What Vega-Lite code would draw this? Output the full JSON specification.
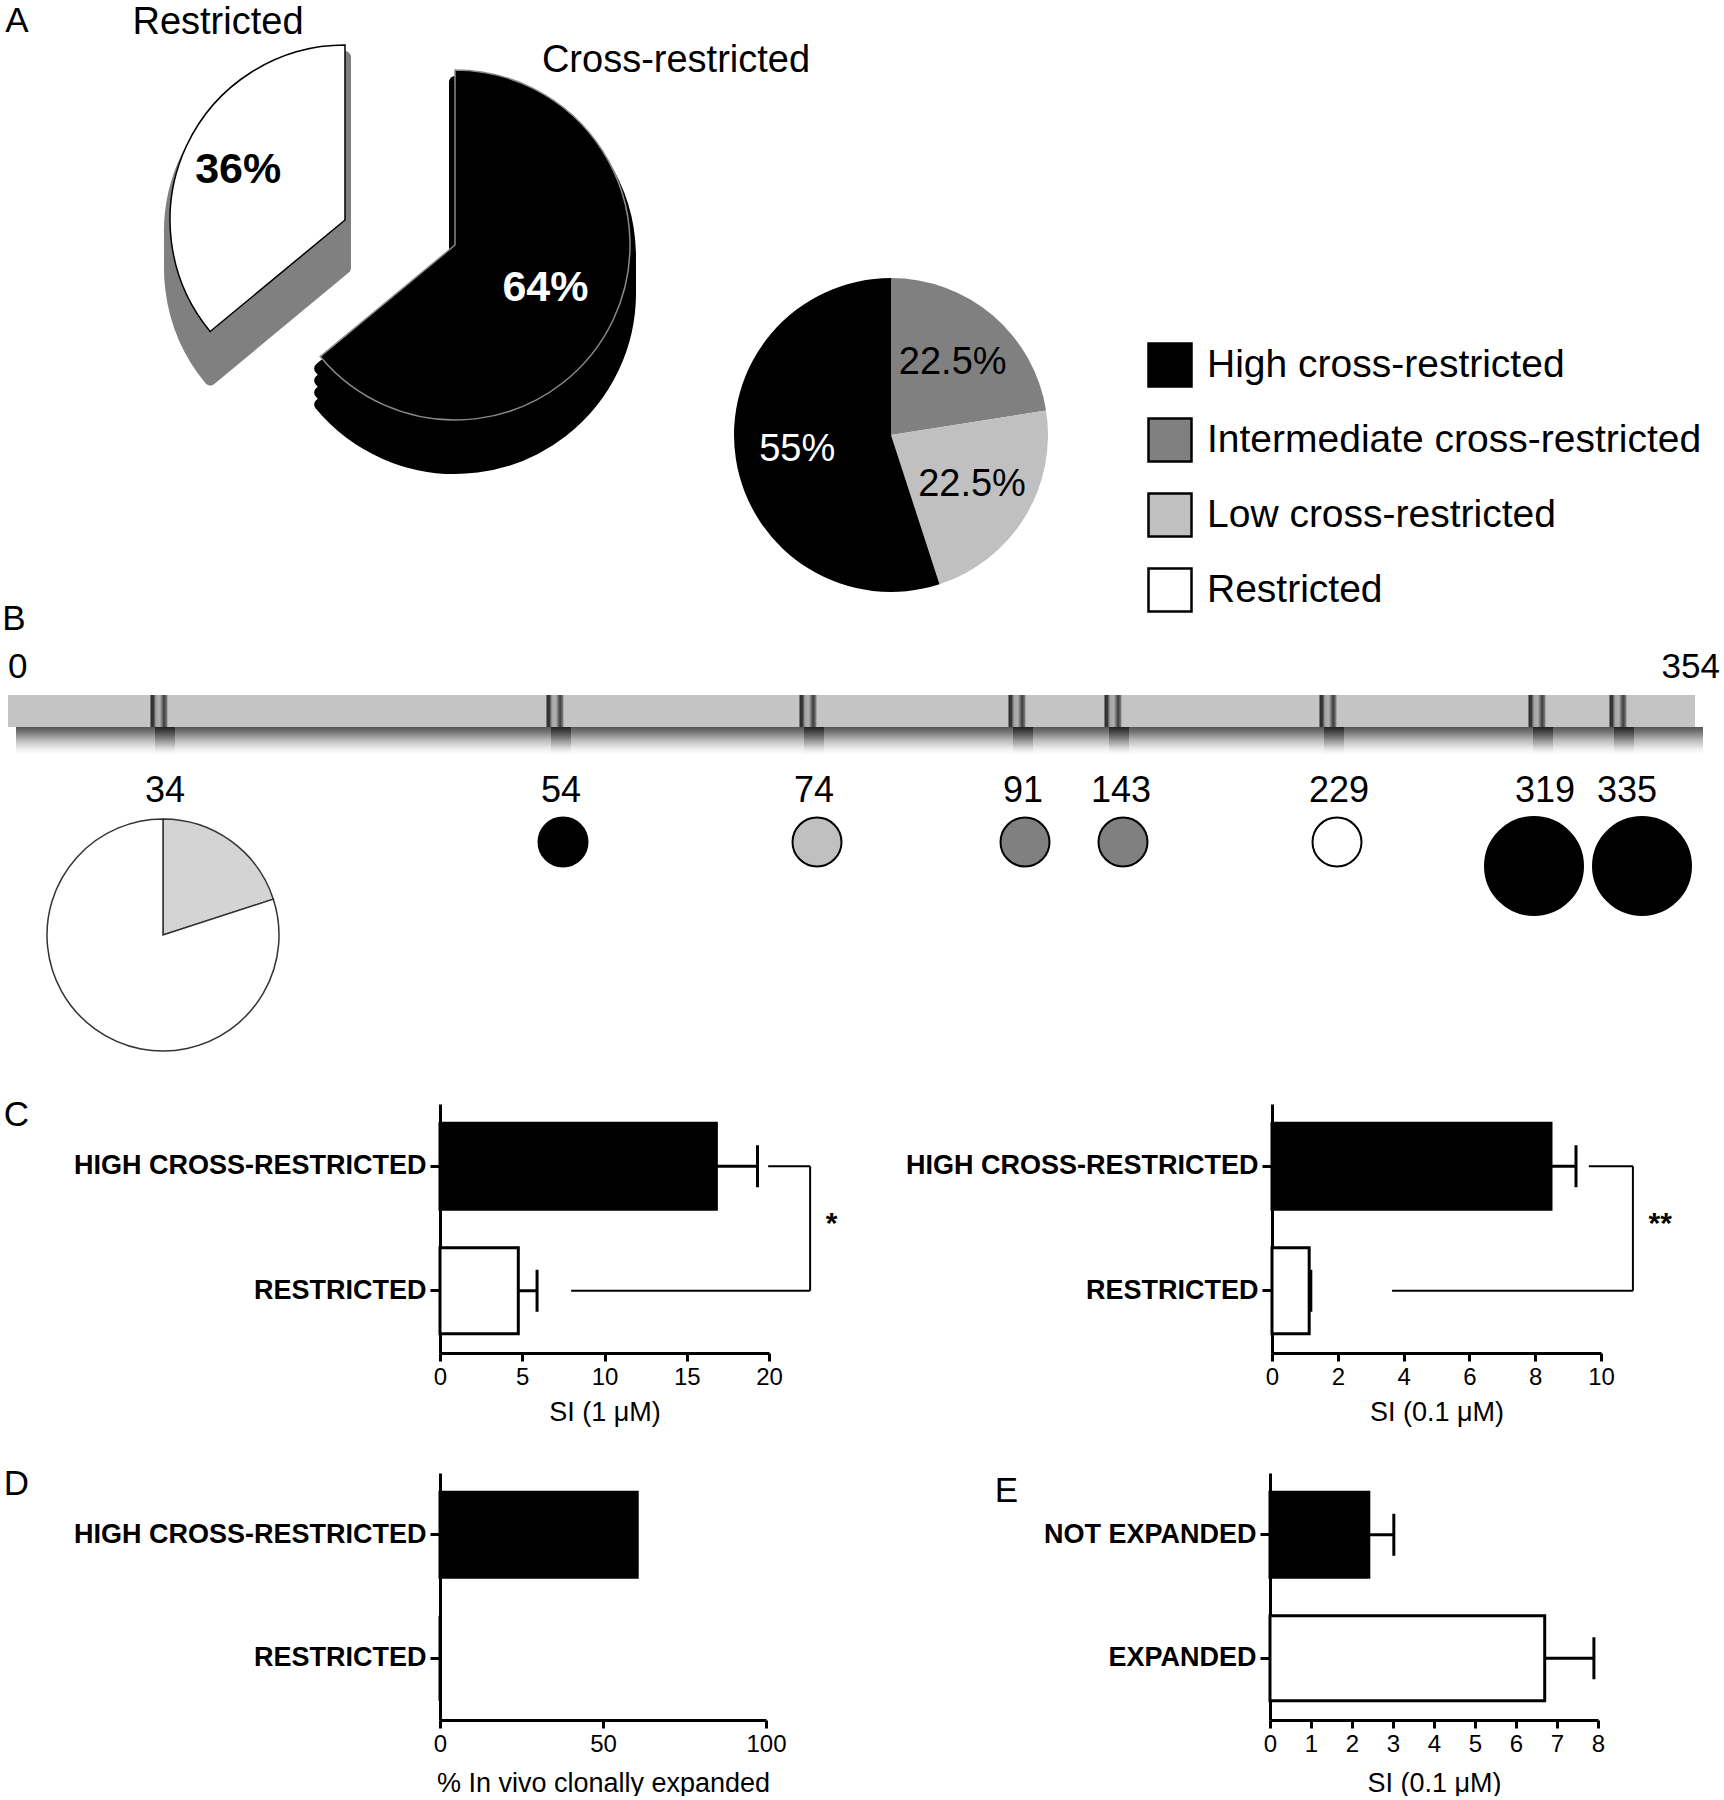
{
  "$schema": "https://vega.github.io/schema/vega-lite/v6.json",
  "padding": 0,
  "spacing": 0,
  "bounds": "flush",
  "config": {
    "font": "Liberation Sans",
    "view": {"stroke": null},
    "axis": {"grid": false, "domainColor": "#000", "tickColor": "#000", "labelColor": "#000", "titleColor": "#000", "domainWidth": 3, "tickWidth": 3, "titleFontWeight": "normal", "labelFlush": false, "labelFont": "Liberation Sans", "titleFont": "Liberation Sans"}
  },
  "resolve": {"scale": {"color": "independent", "fill": "independent", "x": "independent", "y": "independent", "theta": "independent", "size": "independent"}, "legend": {"color": "independent"}},
  "datasets": {
    "big": [
      {"grp": "Cross-restricted", "pct": 64, "k": 1, "lab": "64%"},
      {"grp": "Restricted", "pct": 36, "k": 2, "lab": "36%"}
    ],
    "small": [
      {"cat": "Intermediate cross-restricted", "pct": 22.5, "k": 1, "lab": "22.5%"},
      {"cat": "Low cross-restricted", "pct": 22.5, "k": 2, "lab": "22.5%"},
      {"cat": "High cross-restricted", "pct": 55, "k": 3, "lab": "55%"}
    ],
    "sites": [
      {"res": 34},
      {"res": 54, "cat": "High cross-restricted", "n": 1},
      {"res": 74, "cat": "Low cross-restricted", "n": 1},
      {"res": 91, "cat": "Intermediate cross-restricted", "n": 1},
      {"res": 143, "cat": "Intermediate cross-restricted", "n": 1},
      {"res": 229, "cat": "Restricted", "n": 1},
      {"res": 319, "cat": "High cross-restricted", "n": 4},
      {"res": 335, "cat": "High cross-restricted", "n": 4}
    ],
    "p34": [
      {"res": 34, "cat": "Low cross-restricted", "pct": 20, "k": 1},
      {"res": 34, "cat": "Restricted", "pct": 80, "k": 2}
    ],
    "c1": [
      {"cat": "HIGH CROSS-RESTRICTED", "si": 16.8, "hi": 19.3},
      {"cat": "RESTRICTED", "si": 4.76, "hi": 5.9}
    ],
    "c1b": [
      {"cat": "HIGH CROSS-RESTRICTED", "from": 19.95, "to": 22.5},
      {"cat": "RESTRICTED", "from": 7.97, "to": 22.5}
    ],
    "c1v": [{"x": 22.5, "c1": "HIGH CROSS-RESTRICTED", "c2": "RESTRICTED", "sig": "*", "sx": 23.8}],
    "c2": [
      {"cat": "HIGH CROSS-RESTRICTED", "si": 8.48, "hi": 9.24},
      {"cat": "RESTRICTED", "si": 1.13, "hi": 1.18}
    ],
    "c2b": [
      {"cat": "HIGH CROSS-RESTRICTED", "from": 9.63, "to": 10.97},
      {"cat": "RESTRICTED", "from": 3.65, "to": 10.97}
    ],
    "c2v": [{"x": 10.97, "c1": "HIGH CROSS-RESTRICTED", "c2": "RESTRICTED", "sig": "**", "sx": 11.8}],
    "d": [
      {"cat": "HIGH CROSS-RESTRICTED", "pct": 60.5},
      {"cat": "RESTRICTED", "pct": 0}
    ],
    "e": [
      {"cat": "NOT EXPANDED", "si": 2.41, "hi": 3.02},
      {"cat": "EXPANDED", "si": 6.7, "hi": 7.9}
    ]
  },
  "vconcat": [
    {
      "width": 1724,
      "height": 600,
      "layer": [
        {"data": {"name": "big"}, "mark": {"type": "arc", "outerRadius": 175, "xOffset": -517, "yOffset": -32, "fill": "#808080", "stroke": "#808080", "strokeWidth": 12, "strokeJoin": "round"},
         "encoding": {"theta": {"field": "pct", "type": "quantitative", "stack": true}, "order": {"field": "k"}, "opacity": {"condition": {"test": "datum.grp === 'Restricted'", "value": 1}, "value": 0}}},
        {"data": {"name": "big"}, "mark": {"type": "arc", "outerRadius": 175, "xOffset": -517, "yOffset": -44, "fill": "#808080", "stroke": "#808080", "strokeWidth": 12, "strokeJoin": "round"},
         "encoding": {"theta": {"field": "pct", "type": "quantitative", "stack": true}, "order": {"field": "k"}, "opacity": {"condition": {"test": "datum.grp === 'Restricted'", "value": 1}, "value": 0}}},
        {"data": {"name": "big"}, "mark": {"type": "arc", "outerRadius": 175, "xOffset": -517, "yOffset": -56, "fill": "#808080", "stroke": "#808080", "strokeWidth": 12, "strokeJoin": "round"},
         "encoding": {"theta": {"field": "pct", "type": "quantitative", "stack": true}, "order": {"field": "k"}, "opacity": {"condition": {"test": "datum.grp === 'Restricted'", "value": 1}, "value": 0}}},
        {"data": {"name": "big"}, "mark": {"type": "arc", "outerRadius": 175, "xOffset": -517, "yOffset": -68, "fill": "#808080", "stroke": "#808080", "strokeWidth": 12, "strokeJoin": "round"},
         "encoding": {"theta": {"field": "pct", "type": "quantitative", "stack": true}, "order": {"field": "k"}, "opacity": {"condition": {"test": "datum.grp === 'Restricted'", "value": 1}, "value": 0}}},
        {"data": {"name": "big"}, "mark": {"type": "arc", "outerRadius": 175, "xOffset": -517, "yOffset": -80, "fill": "#ffffff", "stroke": "#000", "strokeWidth": 1.5},
         "encoding": {"theta": {"field": "pct", "type": "quantitative", "stack": true}, "order": {"field": "k"}, "opacity": {"condition": {"test": "datum.grp === 'Restricted'", "value": 1}, "value": 0}}},
        {"data": {"name": "big"}, "mark": {"type": "arc", "outerRadius": 175, "xOffset": -407, "yOffset": -7, "fill": "#000", "stroke": "#000", "strokeWidth": 12, "strokeJoin": "round"},
         "encoding": {"theta": {"field": "pct", "type": "quantitative", "stack": true}, "order": {"field": "k"}, "opacity": {"condition": {"test": "datum.grp === 'Cross-restricted'", "value": 1}, "value": 0}}},
        {"data": {"name": "big"}, "mark": {"type": "arc", "outerRadius": 175, "xOffset": -407, "yOffset": -19, "fill": "#000", "stroke": "#000", "strokeWidth": 12, "strokeJoin": "round"},
         "encoding": {"theta": {"field": "pct", "type": "quantitative", "stack": true}, "order": {"field": "k"}, "opacity": {"condition": {"test": "datum.grp === 'Cross-restricted'", "value": 1}, "value": 0}}},
        {"data": {"name": "big"}, "mark": {"type": "arc", "outerRadius": 175, "xOffset": -407, "yOffset": -31, "fill": "#000", "stroke": "#000", "strokeWidth": 12, "strokeJoin": "round"},
         "encoding": {"theta": {"field": "pct", "type": "quantitative", "stack": true}, "order": {"field": "k"}, "opacity": {"condition": {"test": "datum.grp === 'Cross-restricted'", "value": 1}, "value": 0}}},
        {"data": {"name": "big"}, "mark": {"type": "arc", "outerRadius": 175, "xOffset": -407, "yOffset": -43, "fill": "#000", "stroke": "#000", "strokeWidth": 12, "strokeJoin": "round"},
         "encoding": {"theta": {"field": "pct", "type": "quantitative", "stack": true}, "order": {"field": "k"}, "opacity": {"condition": {"test": "datum.grp === 'Cross-restricted'", "value": 1}, "value": 0}}},
        {"data": {"name": "big"}, "mark": {"type": "arc", "outerRadius": 175, "xOffset": -407, "yOffset": -55, "fill": "#000", "stroke": "#8a8a8a", "strokeWidth": 1.5},
         "encoding": {"theta": {"field": "pct", "type": "quantitative", "stack": true}, "order": {"field": "k"}, "opacity": {"condition": {"test": "datum.grp === 'Cross-restricted'", "value": 1}, "value": 0}}},
        {"data": {"name": "big"}, "mark": {"type": "text", "radius": 118, "xOffset": -517, "yOffset": -80, "fontSize": 43, "fontWeight": "bold", "fill": "#000"},
         "encoding": {"theta": {"field": "pct", "type": "quantitative", "stack": true}, "order": {"field": "k"}, "text": {"field": "lab"}, "opacity": {"condition": {"test": "datum.grp === 'Restricted'", "value": 1}, "value": 0}}},
        {"data": {"name": "big"}, "mark": {"type": "text", "radius": 100, "xOffset": -407, "yOffset": -55, "fontSize": 43, "fontWeight": "bold", "fill": "#fff"},
         "encoding": {"theta": {"field": "pct", "type": "quantitative", "stack": true}, "order": {"field": "k"}, "text": {"field": "lab"}, "opacity": {"condition": {"test": "datum.grp === 'Cross-restricted'", "value": 1}, "value": 0}}},
        {"data": {"name": "small"}, "mark": {"type": "arc", "outerRadius": 157, "xOffset": 29, "yOffset": 135},
         "encoding": {
           "theta": {"field": "pct", "type": "quantitative", "stack": true},
           "order": {"field": "k"},
           "color": {"field": "cat", "type": "nominal",
             "scale": {"domain": ["High cross-restricted", "Intermediate cross-restricted", "Low cross-restricted", "Restricted"], "range": ["#000000", "#808080", "#c0c0c0", "#ffffff"]},
             "legend": {"orient": "none", "legendX": 1147, "legendY": 342, "title": null, "symbolType": "square", "symbolSize": 1849, "symbolStrokeColor": "#000", "symbolStrokeWidth": 2.5, "labelFontSize": 39, "labelFont": "Liberation Sans", "labelColor": "#000", "labelOffset": 14, "rowPadding": 21, "labelLimit": 800, "padding": 0, "symbolOpacity": 1,
               "encode": {"symbols": {"update": {"stroke": {"value": "#000"}, "strokeWidth": {"value": 2.5}}}}}
           }
         }},
        {"data": {"name": "small"}, "mark": {"type": "text", "radius": 95, "xOffset": 29, "yOffset": 135, "fontSize": 38},
         "encoding": {"theta": {"field": "pct", "type": "quantitative", "stack": true}, "order": {"field": "k"}, "text": {"field": "lab"},
           "color": {"condition": {"test": "datum.cat === 'High cross-restricted'", "value": "#fff"}, "value": "#000"}}},
        {"data": {"values": [{"t": "A"}]}, "mark": {"type": "text", "fontSize": 35, "dx": -845, "dy": -279}, "encoding": {"text": {"field": "t"}}},
        {"data": {"values": [{"t": "Restricted"}]}, "mark": {"type": "text", "fontSize": 38, "dx": -644, "dy": -277}, "encoding": {"text": {"field": "t"}}},
        {"data": {"values": [{"t": "Cross-restricted"}]}, "mark": {"type": "text", "fontSize": 38, "dx": -186, "dy": -239}, "encoding": {"text": {"field": "t"}}}
      ]
    },
    {"width": 28, "height": 38, "data": {"values": [{"t": "B"}]}, "mark": {"type": "text", "fontSize": 35}, "encoding": {"text": {"field": "t"}}},
    {
      "width": 1724, "height": 57,
      "data": {"values": [{"pos": 0, "t": "0"}, {"pos": 354, "t": "354"}]},
      "layer": [
        {"transform": [{"filter": "datum.pos === 0"}], "mark": {"type": "text", "fontSize": 35, "align": "left"},
         "encoding": {"x": {"field": "pos", "type": "quantitative", "scale": {"domain": [0, 354], "range": [8, 1720], "nice": false, "zero": false}, "axis": null}, "text": {"field": "t"}}},
        {"transform": [{"filter": "datum.pos === 354"}], "mark": {"type": "text", "fontSize": 35, "align": "right"},
         "encoding": {"x": {"field": "pos", "type": "quantitative", "axis": null}, "text": {"field": "t"}}}
      ]
    },
    {
      "width": 1724, "height": 32,
      "layer": [
        {"data": {"values": [{"from": 0, "to": 354}]}, "mark": {"type": "rect", "fill": "#c4c4c4"},
         "encoding": {"x": {"field": "from", "type": "quantitative", "scale": {"domain": [0, 34, 54, 74, 91, 143, 229, 319, 335, 354], "range": [8, 159, 555, 808, 1017, 1113, 1328, 1537, 1618, 1695], "nice": false, "zero": false}, "axis": null}, "x2": {"field": "to"}}},
        {"data": {"name": "sites"}, "mark": {"type": "tick", "thickness": 17, "size": 32, "opacity": 1,
           "fill": {"gradient": "linear", "x1": 0, "y1": 0, "x2": 1, "y2": 0, "stops": [{"offset": 0, "color": "#2a2a2a"}, {"offset": 0.18, "color": "#3a3a3a"}, {"offset": 0.32, "color": "#a4a4a4"}, {"offset": 0.55, "color": "#b0b0b0"}, {"offset": 0.8, "color": "#3c3c3c"}, {"offset": 1, "color": "#8a8a8a"}]}},
         "encoding": {"x": {"field": "res", "type": "quantitative", "axis": null}}}
      ]
    },
    {
      "width": 1724, "height": 37,
      "layer": [
        {"data": {"values": [{"from": 0, "to": 354}]}, "mark": {"type": "rect",
           "fill": {"gradient": "linear", "x1": 0, "y1": 0, "x2": 0, "y2": 1, "stops": [{"offset": 0, "color": "#555555"}, {"offset": 0.15, "color": "#7a7a7a"}, {"offset": 0.35, "color": "#b8b8b8"}, {"offset": 0.6, "color": "#f0f0f0"}, {"offset": 0.75, "color": "#ffffff"}]}},
         "encoding": {"x": {"field": "from", "type": "quantitative", "scale": {"domain": [0, 34, 54, 74, 91, 143, 229, 319, 335, 354], "range": [16, 165, 561, 814, 1023, 1119, 1334, 1543, 1624, 1703], "nice": false, "zero": false}, "axis": null}, "x2": {"field": "to"}}},
        {"data": {"name": "sites"}, "mark": {"type": "tick", "thickness": 20, "size": 37, "opacity": 1,
           "fill": {"gradient": "linear", "x1": 0, "y1": 0, "x2": 0, "y2": 1, "stops": [{"offset": 0, "color": "#222222"}, {"offset": 0.45, "color": "rgba(120,120,120,0.35)"}, {"offset": 0.8, "color": "rgba(255,255,255,0)"}]}},
         "encoding": {"x": {"field": "res", "type": "quantitative", "axis": null}}}
      ]
    },
    {
      "width": 1724, "height": 54,
      "data": {"name": "sites"},
      "mark": {"type": "text", "fontSize": 36},
      "encoding": {
        "x": {"field": "res", "type": "quantitative", "scale": {"domain": [0, 34, 54, 74, 91, 143, 229, 319, 335, 354], "range": [8, 165, 561, 814, 1023, 1121, 1339, 1545, 1627, 1695], "nice": false, "zero": false}, "axis": null},
        "text": {"field": "res", "type": "quantitative", "format": "d"}
      }
    },
    {
      "width": 1724, "height": 234,
      "layer": [
        {"data": {"name": "p34"},
         "transform": [{"stack": "pct", "groupby": ["res"], "sort": [{"field": "k", "order": "ascending"}], "as": ["t0", "t1"]}],
         "mark": {"type": "arc", "outerRadius": 116, "stroke": "#333", "strokeWidth": 1.5},
         "encoding": {
           "x": {"field": "res", "type": "quantitative", "stack": null, "scale": {"domain": [0, 34, 54, 74, 91, 143, 229, 319, 335, 354], "range": [8, 163, 563, 817, 1025, 1123, 1337, 1534, 1642, 1695], "nice": false, "zero": false}, "axis": null},
           "theta": {"field": "t0", "type": "quantitative", "scale": {"domain": [0, 100]}},
           "theta2": {"field": "t1"},
           "fill": {"field": "cat", "type": "nominal", "scale": {"domain": ["Low cross-restricted", "Restricted"], "range": ["#d4d4d4", "#ffffff"]}, "legend": null}}},
        {"data": {"name": "sites"}, "transform": [{"filter": "datum.n > 0"}],
         "mark": {"type": "point", "filled": true, "shape": "circle", "stroke": "#000", "strokeWidth": 2, "opacity": 1},
         "encoding": {
           "x": {"field": "res", "type": "quantitative", "axis": null},
           "y": {"field": "n", "type": "quantitative", "scale": {"domain": [1, 4], "range": [24, 48], "nice": false, "zero": false}, "axis": null},
           "size": {"field": "n", "type": "quantitative", "scale": {"domain": [0, 4], "range": [0, 9604]}, "legend": null},
           "color": {"field": "cat", "type": "nominal", "scale": {"domain": ["High cross-restricted", "Intermediate cross-restricted", "Low cross-restricted", "Restricted"], "range": ["#000000", "#808080", "#c0c0c0", "#ffffff"]}, "legend": null}
         }}
      ]
    },
    {"width": 1, "height": 52, "data": {"values": []}, "mark": "point"},
    {
      "width": 1724, "height": 249,
      "layer": [
        {
          "layer": [
            {"data": {"name": "c1"}, "mark": {"type": "bar", "stroke": "#000", "strokeWidth": 3},
             "encoding": {
               "y": {"field": "cat", "type": "nominal", "sort": null, "title": "C", "scale": {"paddingInner": 0.31, "paddingOuter": 0.155},
                 "axis": {"orient": "left", "offset": -440, "labelFontSize": 27, "labelFontWeight": "bold", "tickSize": 10, "labelPadding": 4, "labelLimit": 600,
                   "titleAngle": 0, "titleAlign": "center", "titleBaseline": "middle", "titleFontSize": 35, "titleX": -424, "titleY": 10}},
               "x": {"field": "si", "type": "quantitative", "title": "SI (1 μM)", "scale": {"domain": [0, 20], "range": [440, 769], "nice": false, "zero": false},
                 "axis": {"orient": "bottom", "values": [0, 5, 10, 15, 20], "format": "d", "labelFontSize": 24, "tickSize": 8, "labelPadding": 4, "titleFontSize": 27, "titlePadding": 10}},
               "fill": {"field": "cat", "type": "nominal", "scale": {"domain": ["HIGH CROSS-RESTRICTED", "RESTRICTED"], "range": ["#000000", "#ffffff"]}, "legend": null}
             }},
            {"data": {"name": "c1"}, "mark": {"type": "rule", "strokeWidth": 3, "color": "#000"},
             "encoding": {"y": {"field": "cat", "type": "nominal", "sort": null}, "x": {"field": "si", "type": "quantitative"}, "x2": {"field": "hi"}}},
            {"data": {"name": "c1"}, "mark": {"type": "tick", "size": 42, "thickness": 3, "color": "#000", "opacity": 1},
             "encoding": {"y": {"field": "cat", "type": "nominal", "sort": null}, "x": {"field": "hi", "type": "quantitative"}}},
            {"data": {"name": "c1b"}, "mark": {"type": "rule", "strokeWidth": 2, "color": "#000"},
             "encoding": {"y": {"field": "cat", "type": "nominal", "sort": null}, "x": {"field": "from", "type": "quantitative"}, "x2": {"field": "to"}}},
            {"data": {"name": "c1v"}, "mark": {"type": "rule", "strokeWidth": 2, "color": "#000"},
             "encoding": {"x": {"field": "x", "type": "quantitative"}, "y": {"field": "c1", "type": "nominal", "sort": null}, "y2": {"field": "c2"}}},
            {"data": {"name": "c1v"}, "mark": {"type": "text", "fontSize": 30, "fontWeight": "bold", "baseline": "top"},
             "encoding": {"x": {"field": "sx", "type": "quantitative"}, "y": {"field": "c1", "type": "nominal", "sort": null, "bandPosition": 1}, "text": {"field": "sig"}}}
          ]
        },
        {
          "layer": [
            {"data": {"name": "c2"}, "mark": {"type": "bar", "stroke": "#000", "strokeWidth": 3},
             "encoding": {
               "y": {"field": "cat", "type": "nominal", "sort": null, "title": null, "scale": {"paddingInner": 0.31, "paddingOuter": 0.155},
                 "axis": {"orient": "left", "offset": -1272, "labelFontSize": 27, "labelFontWeight": "bold", "tickSize": 10, "labelPadding": 4, "labelLimit": 600}},
               "x": {"field": "si", "type": "quantitative", "title": "SI (0.1 μM)", "scale": {"domain": [0, 10], "range": [1272, 1601], "nice": false, "zero": false},
                 "axis": {"orient": "bottom", "values": [0, 2, 4, 6, 8, 10], "format": "d", "labelFontSize": 24, "tickSize": 8, "labelPadding": 4, "titleFontSize": 27, "titlePadding": 10}},
               "fill": {"field": "cat", "type": "nominal", "scale": {"domain": ["HIGH CROSS-RESTRICTED", "RESTRICTED"], "range": ["#000000", "#ffffff"]}, "legend": null}
             }},
            {"data": {"name": "c2"}, "mark": {"type": "rule", "strokeWidth": 3, "color": "#000"},
             "encoding": {"y": {"field": "cat", "type": "nominal", "sort": null}, "x": {"field": "si", "type": "quantitative"}, "x2": {"field": "hi"}}},
            {"data": {"name": "c2"}, "mark": {"type": "tick", "size": 42, "thickness": 3, "color": "#000", "opacity": 1},
             "encoding": {"y": {"field": "cat", "type": "nominal", "sort": null}, "x": {"field": "hi", "type": "quantitative"}}},
            {"data": {"name": "c2b"}, "mark": {"type": "rule", "strokeWidth": 2, "color": "#000"},
             "encoding": {"y": {"field": "cat", "type": "nominal", "sort": null}, "x": {"field": "from", "type": "quantitative"}, "x2": {"field": "to"}}},
            {"data": {"name": "c2v"}, "mark": {"type": "rule", "strokeWidth": 2, "color": "#000"},
             "encoding": {"x": {"field": "x", "type": "quantitative"}, "y": {"field": "c1", "type": "nominal", "sort": null}, "y2": {"field": "c2"}}},
            {"data": {"name": "c2v"}, "mark": {"type": "text", "fontSize": 30, "fontWeight": "bold", "baseline": "top"},
             "encoding": {"x": {"field": "sx", "type": "quantitative"}, "y": {"field": "c1", "type": "nominal", "sort": null, "bandPosition": 1}, "text": {"field": "sig"}}}
          ]
        }
      ],
      "resolve": {"scale": {"x": "independent", "y": "independent", "fill": "independent"}, "axis": {"x": "independent", "y": "independent"}}
    },
    {"width": 1, "height": 120, "data": {"values": []}, "mark": "point"},
    {
      "width": 1724, "height": 247,
      "layer": [
        {
          "data": {"name": "d"},
          "mark": {"type": "bar", "stroke": "#000", "strokeWidth": 3},
          "encoding": {
            "y": {"field": "cat", "type": "nominal", "sort": null, "title": "D", "scale": {"paddingInner": 0.31, "paddingOuter": 0.155},
              "axis": {"orient": "left", "offset": -440, "labelFontSize": 27, "labelFontWeight": "bold", "tickSize": 10, "labelPadding": 4, "labelLimit": 600,
                "titleAngle": 0, "titleAlign": "center", "titleBaseline": "middle", "titleFontSize": 35, "titleX": -424, "titleY": 10}},
            "x": {"field": "pct", "type": "quantitative", "title": "% In vivo clonally expanded", "scale": {"domain": [0, 100], "range": [440, 766], "nice": false, "zero": false},
              "axis": {"orient": "bottom", "values": [0, 50, 100], "format": "d", "labelFontSize": 24, "tickSize": 8, "labelPadding": 4, "titleFontSize": 27, "titlePadding": 14}},
            "fill": {"field": "cat", "type": "nominal", "scale": {"domain": ["HIGH CROSS-RESTRICTED", "RESTRICTED"], "range": ["#000000", "#ffffff"]}, "legend": null}
          }
        },
        {
          "layer": [
            {"data": {"name": "e"}, "mark": {"type": "bar", "stroke": "#000", "strokeWidth": 3},
             "encoding": {
               "y": {"field": "cat", "type": "nominal", "sort": null, "title": "E", "scale": {"paddingInner": 0.31, "paddingOuter": 0.155},
                 "axis": {"orient": "left", "offset": -1270, "labelFontSize": 27, "labelFontWeight": "bold", "tickSize": 10, "labelPadding": 4, "labelLimit": 600,
                   "titleAngle": 0, "titleAlign": "center", "titleBaseline": "middle", "titleFontSize": 35, "titleX": -264, "titleY": 17}},
               "x": {"field": "si", "type": "quantitative", "title": "SI (0.1 μM)", "scale": {"domain": [0, 8], "range": [1270, 1598], "nice": false, "zero": false},
                 "axis": {"orient": "bottom", "values": [0, 1, 2, 3, 4, 5, 6, 7, 8], "format": "d", "labelFontSize": 24, "tickSize": 8, "labelPadding": 4, "titleFontSize": 27, "titlePadding": 14}},
               "fill": {"field": "cat", "type": "nominal", "scale": {"domain": ["NOT EXPANDED", "EXPANDED"], "range": ["#000000", "#ffffff"]}, "legend": null}
             }},
            {"data": {"name": "e"}, "mark": {"type": "rule", "strokeWidth": 3, "color": "#000"},
             "encoding": {"y": {"field": "cat", "type": "nominal", "sort": null}, "x": {"field": "si", "type": "quantitative"}, "x2": {"field": "hi"}}},
            {"data": {"name": "e"}, "mark": {"type": "tick", "size": 42, "thickness": 3, "color": "#000", "opacity": 1},
             "encoding": {"y": {"field": "cat", "type": "nominal", "sort": null}, "x": {"field": "hi", "type": "quantitative"}}}
          ]
        }
      ],
      "resolve": {"scale": {"x": "independent", "y": "independent", "fill": "independent"}, "axis": {"x": "independent", "y": "independent"}}
    }
  ]
}
